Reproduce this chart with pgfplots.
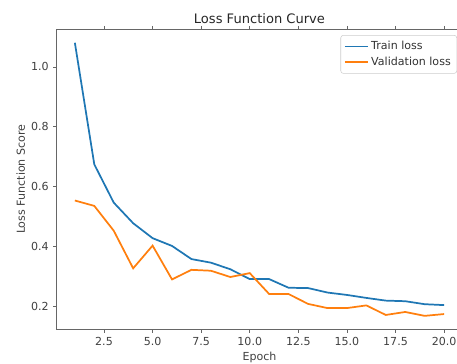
\documentclass[border=0pt]{standalone}
\usepackage{pgfplots}
\pgfplotsset{compat=1.18}
\usepackage{fontspec}
\setmainfont{DejaVu Sans}
\definecolor{c0}{HTML}{1F77B4}
\definecolor{c1}{HTML}{FF7F0E}
\begin{document}
\begin{tikzpicture}
\useasboundingbox (0,0) rectangle (342.75pt,273pt);
\clip (0,0) rectangle (342.75pt,273pt);
\begin{axis}[
  at={(42.3pt,25.8pt)}, anchor=south west,
  scale only axis, width=304.6pt, height=225.45pt,
  xmin=0.05, xmax=20.95, ymin=0.121, ymax=1.127,
  xtick={2.5,5,7.5,10,12.5,15,17.5,20},
  ytick={0.2,0.4,0.6,0.8,1.0},
  xticklabel style={/pgf/number format/.cd,fixed,fixed zerofill,precision=1},
  yticklabel style={/pgf/number format/.cd,fixed,fixed zerofill,precision=1},
  /pgf/number format/assume math mode=true,
  tick align=outside, major tick length=2.3pt,
  tick style={black!60, line width=0.5pt},
  axis line style={black!60, line width=0.6pt},
  ticklabel style={font=\fontsize{8.3}{10}\selectfont, text=black!75},
  title={Loss Function Curve},
  every axis title/.style={font=\fontsize{9.8}{12}\selectfont, text=black!85, at={(axis description cs:0.5,1.035)}, anchor=center},
  xlabel={Epoch}, ylabel={Loss Function Score},
  every axis x label/.style={at={(axis description cs:0.5,-0.093)}, anchor=center, font=\fontsize{8.3}{10}\selectfont, text=black!75},
  every axis y label/.style={at={(axis description cs:-0.088,0.5)}, rotate=90, anchor=center, font=\fontsize{8.3}{10}\selectfont, text=black!75},
  legend style={at={(axis description cs:0.9865,0.980)}, anchor=north east,
    draw=black!20, rounded corners=2pt, font=\fontsize{8.3}{10}\selectfont,
    text=black!80, inner sep=2.5pt},
  legend cell align=left,
]
\addplot[c0, line width=1.3pt] coordinates {
(1,1.081) (2,0.674) (3,0.546) (4,0.477) (5,0.427) (6,0.401) (7,0.357) (8,0.345) (9,0.323) (10,0.290)
(11,0.290) (12,0.261) (13,0.260) (14,0.245) (15,0.237) (16,0.227) (17,0.218) (18,0.216) (19,0.206) (20,0.203)};
\addlegendentry{Train loss}
\addplot[c1, line width=1.3pt] coordinates {
(1,0.553) (2,0.535) (3,0.452) (4,0.326) (5,0.402) (6,0.289) (7,0.321) (8,0.318) (9,0.297) (10,0.310)
(11,0.240) (12,0.240) (13,0.207) (14,0.193) (15,0.193) (16,0.202) (17,0.170) (18,0.180) (19,0.167) (20,0.173)};
\addlegendentry{Validation loss}
\end{axis}
\end{tikzpicture}
\end{document}
